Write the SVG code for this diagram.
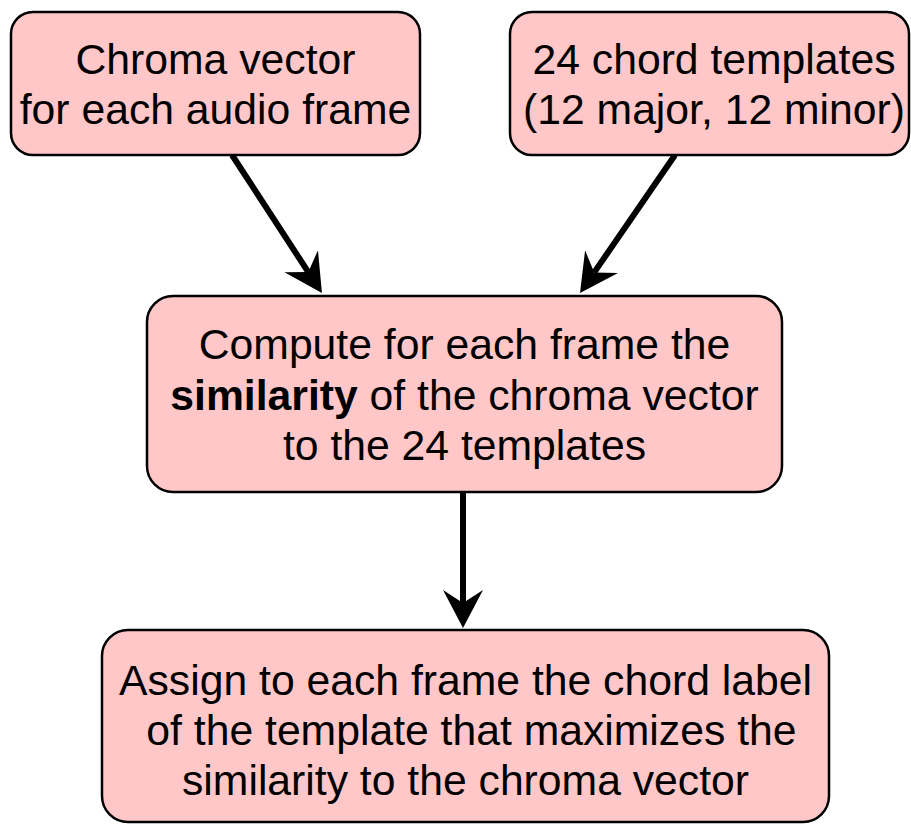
<svg xmlns="http://www.w3.org/2000/svg" width="911" height="824" viewBox="0 0 911 824">
  <style>
    .box { fill: #FFC7C7; stroke: #000000; stroke-width: 2.5; }
    .lbl { font-family: "Liberation Sans", Arial, sans-serif; font-size: 42.7px; fill: #000000; text-anchor: middle; }
    .edge { stroke: #000000; stroke-width: 6; fill: none; }
  </style>
  <defs>
    <marker id="arrow" markerUnits="userSpaceOnUse" markerWidth="40" markerHeight="42" viewBox="0 0 40 42" refX="13" refY="21" orient="auto">
      <path d="M38,21 L0,1 L13,21 L0,41 Z" fill="#000000"/>
    </marker>
  </defs>
  <g id="connectors">
    <line class="edge" x1="232" y1="155" x2="308.3" y2="272.1" marker-end="url(#arrow)"/>
    <line class="edge" x1="675" y1="155" x2="594.2" y2="272.4" marker-end="url(#arrow)"/>
    <line class="edge" x1="463" y1="492" x2="463" y2="603" marker-end="url(#arrow)"/>
  </g>
  <g id="node-chroma">
    <rect class="box" x="11" y="12" width="409" height="143" rx="22" ry="22"/>
    <text class="lbl" x="215.5" y="74">Chroma vector</text>
    <text class="lbl" x="215.5" y="124">for each audio frame</text>
  </g>
  <g id="node-templates">
    <rect class="box" x="510" y="12" width="399" height="143" rx="22" ry="22"/>
    <text class="lbl" x="714" y="74">24 chord templates</text>
    <text class="lbl" x="714" y="124">(12 major, 12 minor)</text>
  </g>
  <g id="node-compute">
    <rect class="box" x="147" y="296" width="635" height="196" rx="26" ry="26"/>
    <text class="lbl" x="464.5" y="359">Compute for each frame the</text>
    <text class="lbl" x="464.5" y="410"><tspan font-weight="bold">similarity</tspan> of the chroma vector</text>
    <text class="lbl" x="464.5" y="460">to the 24 templates</text>
  </g>
  <g id="node-assign">
    <rect class="box" x="102" y="630" width="727" height="192" rx="26" ry="26"/>
    <text class="lbl" x="465.5" y="695">Assign to each frame the chord label</text>
    <text class="lbl" x="465.5" y="745" xml:space="preserve"> of the template that maximizes the</text>
    <text class="lbl" x="465.5" y="795">similarity to the chroma vector</text>
  </g>
</svg>
